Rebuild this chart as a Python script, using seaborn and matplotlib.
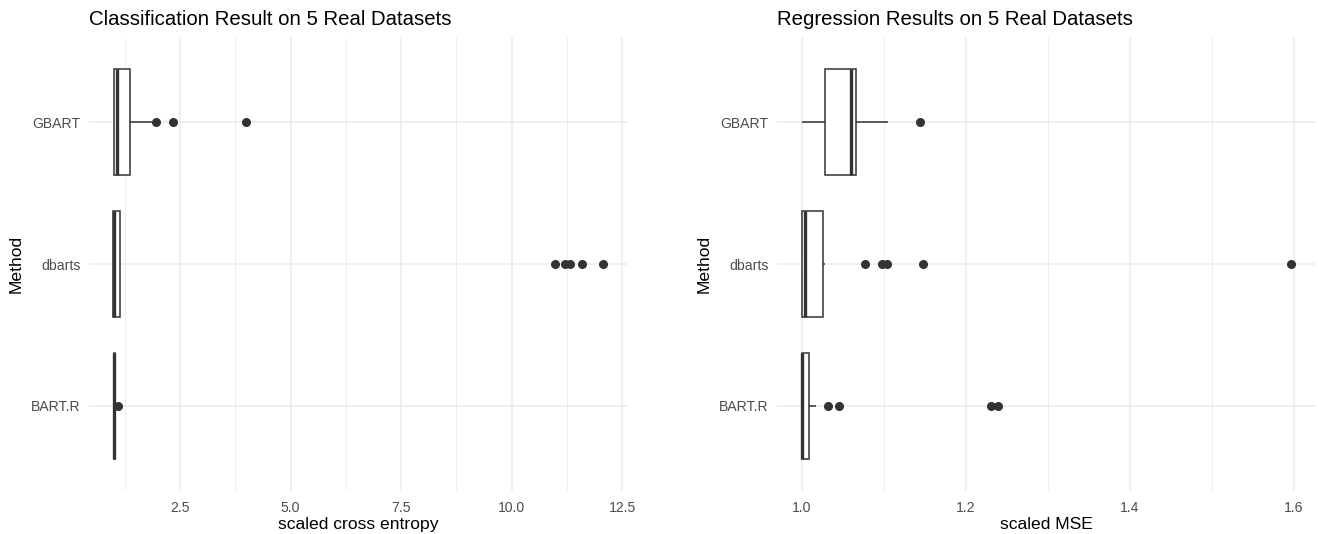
import numpy as np
import pandas as pd
import matplotlib
matplotlib.use("Agg")
import matplotlib.pyplot as plt
import seaborn as sns

# ---------------- data ----------------
methods = ["GBART", "dbarts", "BART.R"]

cls_gbart = [1.00, 1.00, 1.00, 1.00, 1.00, 1.00, 1.00, 1.01, 1.02, 1.04, 1.05, 1.07,
             1.08, 1.10, 1.15, 1.20, 1.25, 1.30, 1.37, 1.45, 1.60, 1.87, 1.95, 2.33, 4.00]
cls_dbarts = [0.99, 0.99, 0.99, 0.99, 0.99, 0.99, 0.99, 1.00, 1.00, 1.005, 1.005, 1.01,
              1.01, 1.02, 1.04, 1.06, 1.08, 1.10, 1.13, 1.13, 10.98, 11.21, 11.31, 11.60, 12.06]
cls_bartr = [1.00, 1.00, 1.00, 1.00, 1.00, 1.00, 1.00, 1.00, 1.00, 1.00, 1.00, 1.00,
             1.003, 1.005, 1.01, 1.015, 1.02, 1.03, 1.035, 1.035, 1.035, 1.035, 1.035, 1.035, 1.10]

reg_gbart = [1.000, 1.005, 1.010, 1.015, 1.020, 1.025, 1.0284, 1.035, 1.042, 1.048, 1.052, 1.056,
             1.0598, 1.061, 1.062, 1.063, 1.064, 1.065, 1.0659, 1.072, 1.080, 1.088, 1.095, 1.1056, 1.1443]
reg_dbarts = [1.000, 1.000, 1.000, 1.000, 1.000, 1.000, 1.000, 1.001, 1.001, 1.002, 1.003, 1.003,
              1.004, 1.008, 1.012, 1.016, 1.020, 1.024, 1.0264, 1.028, 1.0776, 1.0983, 1.1044, 1.1483, 1.5962]
reg_bartr = [1.000, 1.000, 1.000, 1.000, 1.000, 1.000, 1.000, 1.000, 1.000, 1.0005, 1.0005, 1.001,
             1.001, 1.002, 1.003, 1.004, 1.006, 1.008, 1.009, 1.012, 1.0175, 1.0317, 1.0455, 1.2309, 1.2398]

cls_ticks = [2.5, 5.0, 7.5, 10.0, 12.5]
cls_tick_labels = ["2.5", "5.0", "7.5", "10.0", "12.5"]
cls_minor = [1.25, 3.75, 6.25, 8.75, 11.25]
reg_ticks = [1.0, 1.2, 1.4, 1.6]
reg_tick_labels = ["1.0", "1.2", "1.4", "1.6"]
reg_minor = [1.1, 1.3, 1.5]

titles = ["Classification Result on 5 Real Datasets", "Regression Results on 5 Real Datasets"]
xlabels = ["scaled cross entropy", "scaled MSE"]


def long_df(groups):
    rows = []
    for m, vals in zip(methods, groups):
        for v in vals:
            rows.append({"Method": m, "value": v})
    return pd.DataFrame(rows)


df_cls = long_df([cls_gbart, cls_dbarts, cls_bartr])
df_reg = long_df([reg_gbart, reg_dbarts, reg_bartr])

# ---------------- style ----------------
sns.set_style("white")
plt.rcParams["font.family"] = ["Liberation Sans", "DejaVu Sans"]

W, H = 1318, 534
fig = plt.figure(figsize=(W / 100, H / 100), dpi=100)
fig.patch.set_facecolor("white")

grid_col = "#EBEBEB"
line_col = "#333333"


def panel(rect, df, ticks, tick_labels, minor, xlim, title, xlabel):
    ax = fig.add_axes(rect)
    sns.boxplot(data=df, x="value", y="Method", order=methods, orient="h",
                width=0.75, color="white", saturation=1, linecolor=line_col,
                linewidth=1.1, fliersize=5.5, whis=1.5, showcaps=False,
                medianprops={"linewidth": 2.4, "color": line_col},
                flierprops={"marker": "o", "markerfacecolor": line_col,
                            "markeredgecolor": line_col},
                ax=ax)
    ax.set_xlim(*xlim)
    ax.set_ylim(2.6, -0.6)
    ax.set_xticks(ticks)
    ax.set_xticklabels(tick_labels)
    ax.set_xticks(minor, minor=True)
    for v in ticks:
        ax.axvline(v, color=grid_col, lw=1.1, zorder=0)
    for v in minor:
        ax.axvline(v, color=grid_col, lw=0.6, zorder=0)
    for v in range(len(methods)):
        ax.axhline(v, color=grid_col, lw=1.1, zorder=0)
    ax.set_axisbelow(True)
    for s in ax.spines.values():
        s.set_visible(False)
    ax.tick_params(axis="both", which="both", length=0, labelsize=10.1,
                   labelcolor="#4D4D4D")
    ax.tick_params(axis="x", pad=7)
    ax.tick_params(axis="y", pad=6)
    ax.set_title(title, loc="left", fontsize=14.7, pad=8.6, color="black")
    ax.set_xlabel(xlabel, fontsize=12.6, color="black")
    ax.set_ylabel("Method", fontsize=12.6, color="black")
    ax.xaxis.set_label_coords(0.5, -0.073)
    ax.xaxis.label.set_va("center")
    ax.yaxis.set_label_coords(-0.135, 0.5)
    ax.yaxis.label.set_va("center")
    return ax


panel([89 / W, (H - 491) / H, 538 / W, 454 / H], df_cls, cls_ticks, cls_tick_labels,
      cls_minor, (0.44, 12.61), titles[0], xlabels[0])
panel([777 / W, (H - 491) / H, 538 / W, 454 / H], df_reg, reg_ticks, reg_tick_labels,
      reg_minor, (0.970, 1.626), titles[1], xlabels[1])

fig.savefig("out.png", dpi=100, facecolor="white")
